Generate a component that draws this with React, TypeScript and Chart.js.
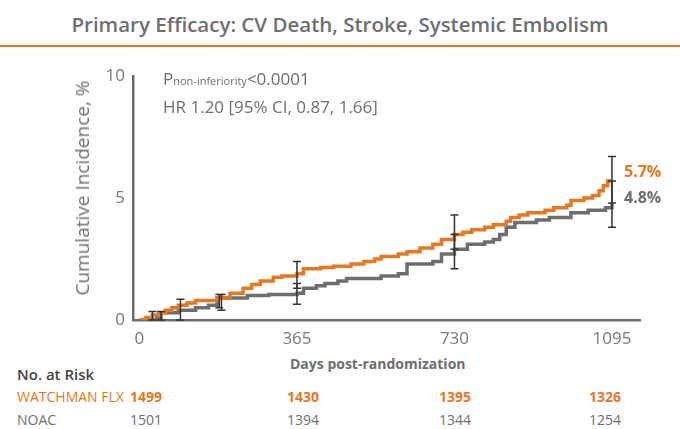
import { useEffect, useRef } from 'react';
import { Chart } from 'chart.js/auto';

const ORANGE = '#e87722';
const GRAY = '#6d6e71';
const FONT = '"Open Sans", sans-serif';

// Kaplan-Meier style step points: [day, cumulative incidence %]
const watchmanDays = [0, 15, 30, 45, 60, 75, 90, 110, 130, 180, 210, 240, 260, 280, 310, 330, 365, 380, 420, 450, 490, 520, 545, 560, 600, 620, 650, 680, 700, 730, 750, 770, 800, 820, 850, 860, 880, 900, 940, 960, 990, 1000, 1030, 1050, 1065, 1075, 1085, 1095];
const watchmanPct = [0, 0.1, 0.2, 0.3, 0.4, 0.5, 0.6, 0.7, 0.8, 0.9, 1.1, 1.3, 1.45, 1.6, 1.75, 1.8, 1.9, 2.1, 2.15, 2.2, 2.3, 2.4, 2.5, 2.6, 2.7, 2.8, 2.95, 3.1, 3.3, 3.5, 3.6, 3.7, 3.8, 3.9, 4.05, 4.2, 4.3, 4.4, 4.5, 4.6, 4.7, 4.9, 5.0, 5.1, 5.3, 5.5, 5.7, 5.7];
const noacDays = [0, 40, 50, 90, 130, 160, 180, 250, 300, 365, 380, 410, 430, 460, 480, 560, 600, 620, 680, 700, 730, 760, 800, 820, 835, 850, 870, 920, 950, 1000, 1040, 1080, 1095];
const noacPct = [0, 0.1, 0.3, 0.4, 0.5, 0.6, 0.9, 1.0, 1.05, 1.1, 1.3, 1.4, 1.5, 1.6, 1.7, 1.8, 1.9, 2.3, 2.4, 2.7, 2.9, 3.1, 3.2, 3.3, 3.5, 3.8, 4.0, 4.1, 4.2, 4.4, 4.5, 4.6, 4.8];

// confidence interval bars: day, low, high
const ciDays = [30, 50, 95, 185, 190, 365, 365, 730, 730, 1095, 1095];
const ciLow = [0, 0, 0, 0.5, 0.4, 1.3, 0.65, 2.9, 2.1, 4.8, 3.8];
const ciHigh = [0.35, 0.35, 0.85, 1.05, 1.05, 2.4, 1.5, 4.3, 3.5, 6.7, 5.7];

const xTicks = [0, 365, 730, 1095];
const atRiskWatchman = [1499, 1430, 1395, 1326];
const atRiskNoac = [1501, 1394, 1344, 1254];

const errorBars = {
  id: 'errorBars',
  afterDatasetsDraw(chart) {
    const { ctx, scales } = chart;
    ctx.save();
    ctx.strokeStyle = '#333';
    ctx.lineWidth = 1.5;
    ciDays.forEach((d, i) => {
      const x = scales.x.getPixelForValue(d);
      const y1 = scales.y.getPixelForValue(ciLow[i]);
      const y2 = scales.y.getPixelForValue(ciHigh[i]);
      ctx.beginPath();
      ctx.moveTo(x, y1);
      ctx.lineTo(x, y2);
      ctx.moveTo(x - 4, y1);
      ctx.lineTo(x + 4, y1);
      ctx.moveTo(x - 4, y2);
      ctx.lineTo(x + 4, y2);
      ctx.stroke();
    });
    ctx.restore();
  },
};

function KMChart() {
  const chartRef = useRef(null);
  const chartInstanceRef = useRef(null);

  useEffect(() => {
    if (chartInstanceRef.current) chartInstanceRef.current.destroy();
    const ctx = chartRef.current.getContext('2d');
    chartInstanceRef.current = new Chart(ctx, {
      type: 'line',
      data: {
        datasets: [
          {
            label: 'WATCHMAN FLX',
            data: watchmanDays.map((d, i) => ({ x: d, y: watchmanPct[i] })),
            borderColor: ORANGE,
            borderWidth: 3.5,
            stepped: true,
            pointRadius: 0,
          },
          {
            label: 'NOAC',
            data: noacDays.map((d, i) => ({ x: d, y: noacPct[i] })),
            borderColor: GRAY,
            borderWidth: 3.5,
            stepped: true,
            pointRadius: 0,
          },
        ],
      },
      options: {
        animation: false,
        responsive: false,
        layout: { padding: { top: 26, right: 40 } },
        plugins: { legend: { display: false }, tooltip: { enabled: false } },
        scales: {
          x: {
            type: 'linear',
            min: -15,
            max: 1160,
            afterBuildTicks: (axis) => {
              axis.ticks = xTicks.map((v) => ({ value: v }));
            },
            afterFit: (axis) => {
              axis.height = 30;
            },
            grid: { display: false, drawTicks: false },
            border: { color: GRAY, width: 2.5 },
            ticks: { color: '#777', font: { family: FONT, size: 17 }, padding: 9, callback: (v) => String(v) },
          },
          y: {
            min: 0,
            max: 10,
            afterBuildTicks: (axis) => {
              axis.ticks = [0, 5, 10].map((v) => ({ value: v }));
            },
            afterFit: (axis) => {
              axis.width = 133;
            },
            grid: { display: false, drawTicks: false },
            border: { color: GRAY, width: 2.5 },
            ticks: { color: '#777', font: { family: FONT, size: 17 }, padding: 8 },
          },
        },
      },
      plugins: [errorBars],
    });
    return () => {
      if (chartInstanceRef.current) chartInstanceRef.current.destroy();
    };
  }, []);

  return <canvas ref={chartRef} width={680} height={300} style={{ position: 'absolute', left: 0, top: 50 }} />;
}

export default function App() {
  const colX = [146, 303, 455, 605];
  return (
    <div style={{ position: 'fixed', left: 0, top: 0, width: 680, height: 429, background: '#fff', fontFamily: FONT, overflow: 'hidden' }}>
      <div style={{ position: 'absolute', top: 10, left: 0, width: 680, textAlign: 'center', fontSize: 20.5, fontWeight: 600, color: GRAY }}>
        Primary Efficacy: CV Death, Stroke, Systemic Embolism
      </div>
      <div style={{ position: 'absolute', top: 45, left: 0, width: 680, height: 2, background: ORANGE }} />
      <KMChart />
      <div style={{ position: 'absolute', left: 82, top: 188, width: 0, height: 0 }}>
        <div style={{ position: 'absolute', transform: 'translate(-50%, -50%) rotate(-90deg)', whiteSpace: 'nowrap', fontSize: 19, color: GRAY }}>
          Cumulative Incidence, %
        </div>
      </div>
      <div style={{ position: 'absolute', left: 163, top: 66, fontSize: 17, color: GRAY, lineHeight: '26px' }}>
        <div>P<span style={{ fontSize: 11 }}>non-inferiority</span>&lt;0.0001</div>
        <div>HR 1.20 [95% CI, 0.87, 1.66]</div>
      </div>
      <div style={{ position: 'absolute', left: 624, top: 160, fontSize: 16, fontWeight: 700, color: ORANGE }}>5.7%</div>
      <div style={{ position: 'absolute', left: 624, top: 186, fontSize: 16, fontWeight: 700, color: GRAY }}>4.8%</div>
      <div style={{ position: 'absolute', left: 290, top: 354, fontSize: 14, fontWeight: 700, color: GRAY }}>Days post-randomization</div>
      <div style={{ position: 'absolute', left: 17, top: 364, fontSize: 15, fontWeight: 600, color: '#444' }}>No. at Risk</div>
      <div style={{ position: 'absolute', left: 17, top: 387, fontSize: 14, color: ORANGE }}>WATCHMAN FLX</div>
      <div style={{ position: 'absolute', left: 17, top: 410, fontSize: 14, color: GRAY }}>NOAC</div>
      {colX.map((x, i) => (
        <div key={'w' + i}>
          <div style={{ position: 'absolute', left: x - 30, width: 60, top: 387, textAlign: 'center', fontSize: 14, fontWeight: 700, color: ORANGE }}>{atRiskWatchman[i]}</div>
          <div style={{ position: 'absolute', left: x - 30, width: 60, top: 410, textAlign: 'center', fontSize: 14, color: GRAY }}>{atRiskNoac[i]}</div>
        </div>
      ))}
    </div>
  );
}
